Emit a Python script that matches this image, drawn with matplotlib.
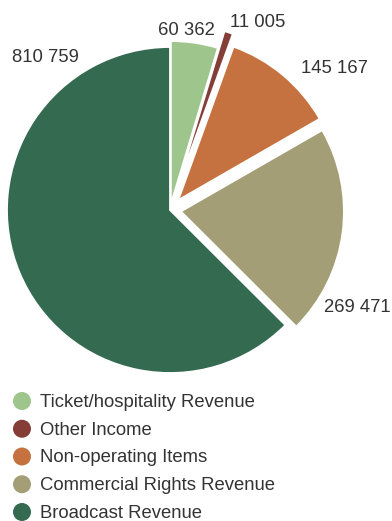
import matplotlib
matplotlib.use("Agg")
import matplotlib.pyplot as plt

plt.rcParams['font.family'] = ['Liberation Sans', 'DejaVu Sans']

# revenue split
categories = ['Ticket/hospitality Revenue', 'Other Income', 'Non-operating Items',
              'Commercial Rights Revenue', 'Broadcast Revenue']
values = [60362, 11005, 145167, 269471, 810759]
colors = ['#9dc58c', '#843d37', '#c67240', '#a39e76', '#346a50']

# how far each slice is pulled out (px)
pull = [6, 24, 13, 11, 0]
# where each value label sits (x, baseline y), y measured upward
label_pos = [(186, 486), (258, 494), (334, 448), (357, 209), (45, 459)]

W, H = 392, 521
fig = plt.figure(figsize=(W / 100, H / 100), dpi=100)
ax = fig.add_axes([0, 0, 1, 1])

ax.pie(values, colors=colors, startangle=90, counterclock=False,
       explode=pull, center=(170, 311), radius=163,
       wedgeprops=dict(edgecolor='white', linewidth=1.3))

def fmt(v):
    return f"{v:,}".replace(",", " ")

for v, (x, y) in zip(values, label_pos):
    ax.text(x, y, fmt(v), ha='center', va='baseline', fontsize=13.3, color='#333333')

# legend drawn by hand: dot + label per row
for i, (name, c) in enumerate(zip(categories, colors)):
    y = H - (401 + i * 27.75)
    ax.scatter([22], [y], s=168, color=c, edgecolors='none')
    ax.text(40, y - 6, name, ha='left', va='baseline', fontsize=13.3, color='#333333')

ax.set_xlim(0, W)
ax.set_ylim(0, H)
ax.set_aspect('equal')
ax.axis('off')

fig.savefig('out.png', dpi=100)
